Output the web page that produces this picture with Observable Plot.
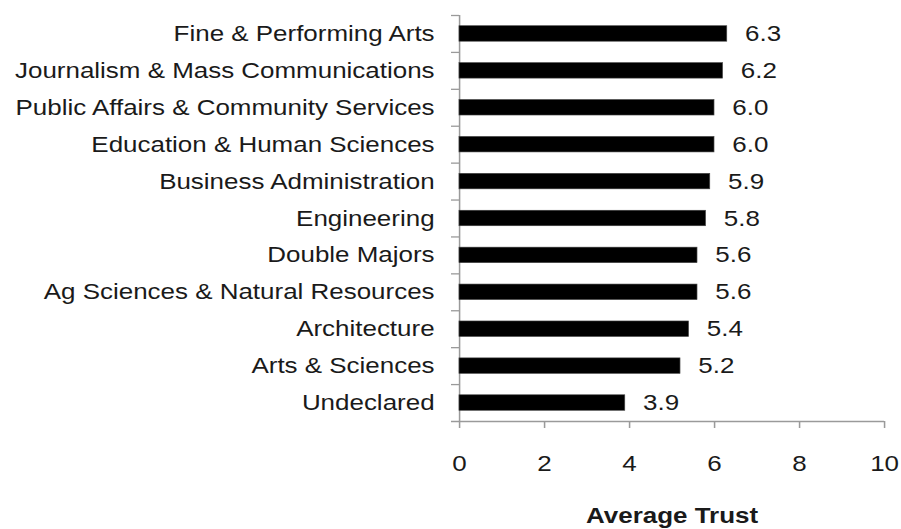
<!DOCTYPE html>
<html>
<head>
<meta charset="utf-8">
<script src="https://cdn.jsdelivr.net/npm/d3@7"></script>
<script src="https://cdn.jsdelivr.net/npm/@observablehq/plot@0.6"></script>
<style>
  html, body { margin: 0; padding: 0; background: #fff; }
  #chart { width: 901px; height: 529px; overflow: hidden; }
</style>
</head>
<body>
<div id="chart"></div>
<script>
// Data
const categories = [
  "Fine & Performing Arts",
  "Journalism & Mass Communications",
  "Public Affairs & Community Services",
  "Education & Human Sciences",
  "Business Administration",
  "Engineering",
  "Double Majors",
  "Ag Sciences & Natural Resources",
  "Architecture",
  "Arts & Sciences",
  "Undeclared"
];
const values = [6.3, 6.2, 6.0, 6.0, 5.9, 5.8, 5.6, 5.6, 5.4, 5.2, 3.9];
const xTicks = [0, 2, 4, 6, 8, 10];
const xLabel = "Average Trust";

const rows = categories.map((c, i) => ({category: c, value: values[i]}));

// Layout (the reference is horizontally stretched, so draw narrower and scale X)
const stretch = 1.18;
const totalWidth = 901, height = 529;
const width = totalWidth / stretch;
const marginLeft = 459 / stretch, marginRight = 17 / stretch;
const marginTop = 15, marginBottom = 108;
const step = (height - marginTop - marginBottom) / categories.length;
const frameWidth = width - marginLeft - marginRight;
const axisColor = "#9a9a9a";
const textColor = "#1a1a1a";
const font = 22;

const chart = Plot.plot({
  width, height, marginLeft, marginRight, marginTop, marginBottom,
  style: {
    fontFamily: "'Liberation Sans', Arial, Helvetica, sans-serif",
    fontSize: font + "px",
    color: textColor,
    background: "#fff",
    overflow: "visible",
    transform: `scaleX(${stretch})`,
    transformOrigin: "0 0"
  },
  x: {domain: [0, 10]},
  y: {domain: categories, paddingInner: 0.58, paddingOuter: 0.29, round: false},
  marks: [
    // category boundary ticks on the y axis
    Plot.ruleY(categories, {y: d => d, dy: -step / 2, insetLeft: -8 / stretch, insetRight: frameWidth, stroke: axisColor, strokeWidth: 1.3}),
    // x axis baseline
    Plot.ruleY([categories[categories.length - 1]], {y: d => d, dy: step / 2, insetLeft: -8 / stretch, stroke: axisColor, strokeWidth: 1.3}),
    // y axis line
    Plot.ruleX([0], {stroke: axisColor, strokeWidth: 1.3}),
    Plot.barX(rows, {x: "value", y: "category", fill: "#000", stroke: "#444", strokeWidth: 0.6}),
    Plot.text(rows, {x: "value", y: "category", text: d => d.value.toFixed(1), dx: 15, textAnchor: "start", fontSize: font, fill: textColor}),
    Plot.axisY({tickSize: 0, tickPadding: 21.2, fontSize: font, fill: textColor, label: null}),
    Plot.axisX({ticks: xTicks, tickSize: 7, tickPadding: 26.5, fontSize: font, stroke: axisColor, strokeWidth: 1.3, fill: textColor, label: null}),
    Plot.text([xLabel], {frameAnchor: "bottom", lineAnchor: "middle", dy: 94, fontSize: font, fontWeight: "bold", fill: textColor})
  ]
});

document.getElementById("chart").appendChild(chart);
</script>
</body>
</html>
